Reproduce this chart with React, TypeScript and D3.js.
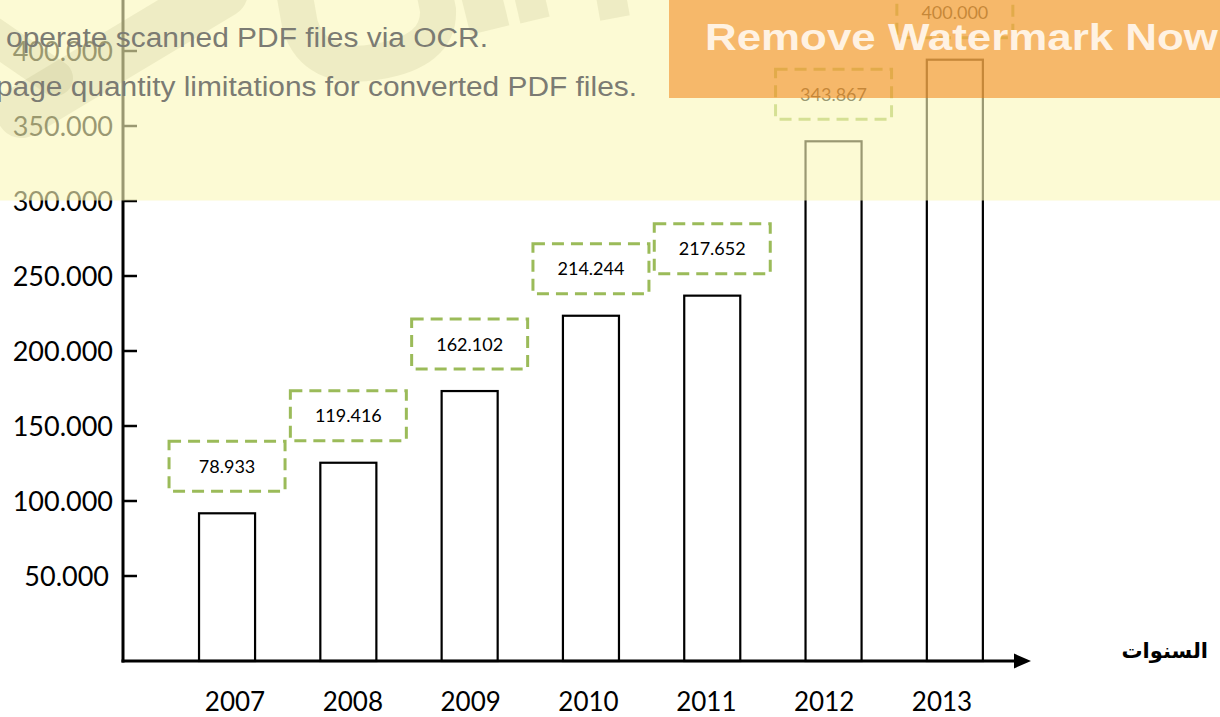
import React from "react";
import * as d3 from "d3";

const years = ["2007", "2008", "2009", "2010", "2011", "2012", "2013"];
const barValues = [91800, 125500, 173300, 223500, 236900, 339800, 394200];
const boxLabels = ["78.933", "119.416", "162.102", "214.244", "217.652", "343.867", "400.000"];
const yTicks = [50000, 100000, 150000, 200000, 250000, 300000, 350000, 400000];
const axisTitle = "السنوات";
const wmLine1 = "operate scanned PDF files via OCR.";
const wmLine2 = "page quantity limitations for converted PDF files.";
const wmButton = "Remove Watermark Now";

const W = 1220;
const H = 717;
const AXIS_X = 123;
const AXIS_Y = 661;

export default function App() {
  const x = d3
    .scaleBand<string>()
    .domain(years)
    .range([166.4, 1015.5])
    .paddingInner(0.538)
    .paddingOuter(0.269);
  const xLab = d3.scalePoint<string>().domain(years).range([235, 942]);
  const y = d3.scaleLinear().domain([0, 400000]).range([651, 51]);
  const fmt = (v: number) => d3.format(".3f")(v / 1000);
  const green = "#9BBB59";

  return (
    <svg
      width={W}
      height={H}
      style={{ position: "absolute", left: 0, top: 0, background: "#fff" }}
    >
      <rect x={0} y={0} width={W} height={H} fill="#fff" />
      {/* y axis */}
      <line x1={AXIS_X} y1={-5} x2={AXIS_X} y2={AXIS_Y + 1.5} stroke="#000" strokeWidth={3} />
      {yTicks.map((t) => (
        <g key={t}>
          <line x1={AXIS_X} x2={AXIS_X + 14} y1={y(t)} y2={y(t)} stroke="#000" strokeWidth={2.5} />
          <text
            x={t === 50000 ? 109 : 113}
            y={y(t)}
            dy="0.36em"
            textAnchor="end"
            fontFamily="Lato, 'Noto Sans', sans-serif"
            fontSize={27}
            fill="#000"
          >
            {fmt(t)}
          </text>
        </g>
      ))}
      {/* bars */}
      {years.map((yr, i) => (
        <rect
          key={yr}
          x={x(yr)}
          y={y(barValues[i])}
          width={x.bandwidth()}
          height={AXIS_Y - y(barValues[i])}
          fill="#fff"
          stroke="#000"
          strokeWidth={2.2}
        />
      ))}
      {/* x axis */}
      <line x1={AXIS_X - 1.5} y1={AXIS_Y} x2={1016} y2={AXIS_Y} stroke="#000" strokeWidth={3} />
      <path d={`M1014,${AXIS_Y - 7.5} L1031,${AXIS_Y} L1014,${AXIS_Y + 7.5} Z`} fill="#000" />
      {/* dashed label boxes */}
      {years.map((yr, i) => {
        const cx = (x(yr) as number) + x.bandwidth() / 2;
        const bottom = y(barValues[i]) - 22;
        return (
          <g key={"b" + yr}>
            <rect
              x={cx - 58}
              y={bottom - 50}
              width={116}
              height={50}
              fill="none"
              stroke={green}
              strokeWidth={3}
              strokeDasharray="12,7"
            />
            <text
              x={cx}
              y={bottom - 25}
              dy="0.36em"
              textAnchor="middle"
              fontFamily="Lato, 'Noto Sans', sans-serif"
              fontSize={18}
              fill="#000"
            >
              {boxLabels[i]}
            </text>
          </g>
        );
      })}
      {/* year labels */}
      {years.map((yr) => (
        <text
          key={"l" + yr}
          x={xLab(yr)}
          y={711}
          textAnchor="middle"
          fontFamily="Lato, 'Noto Sans', sans-serif"
          fontSize={26}
          fill="#000"
        >
          {yr}
        </text>
      ))}
      <text
        x={1208}
        y={658}
        textAnchor="end"
        fontFamily="'DejaVu Sans', sans-serif"
        fontWeight="bold"
        fontSize={21}
        fill="#000"
      >
        {axisTitle}
      </text>

      {/* watermark overlay */}
      <rect x={0} y={0} width={W} height={200.5} fill="rgb(250,247,185)" fillOpacity={0.616} />
      <g fill="none" stroke="#9c9a60" strokeOpacity={0.14} strokeLinecap="round">
        <line x1={222} y1={-8} x2={22} y2={112} strokeWidth={52} />
        <line x1={-15} y1={30} x2={55} y2={78} strokeWidth={36} />
        <path d="M292,-20 L300,25 Q315,72 375,62 Q440,52 438,10 L432,-20" strokeWidth={36} strokeLinecap="butt" />
        <line x1={490} y1={30} x2={480} y2={-10} strokeWidth={40} strokeLinecap="butt" />
        <line x1={535} y1={20} x2={528} y2={-10} strokeWidth={30} strokeLinecap="butt" />
        <line x1={615} y1={18} x2={610} y2={-10} strokeWidth={30} strokeLinecap="butt" />
      </g>
      <rect x={669} y={0} width={W - 669} height={98} fill="rgb(240,117,0)" fillOpacity={0.5} />
      <text
        x={6}
        y={47}
        fontFamily="'Liberation Sans', Arial, sans-serif"
        fontSize={27}
        fill="#7b7b73"
        textLength={482}
        lengthAdjust="spacingAndGlyphs"
      >
        {wmLine1}
      </text>
      <text
        x={-4}
        y={96}
        fontFamily="'Liberation Sans', Arial, sans-serif"
        fontSize={27}
        fill="#7b7b73"
        textLength={641}
        lengthAdjust="spacingAndGlyphs"
      >
        {wmLine2}
      </text>
      <text
        x={705}
        y={50}
        fontFamily="'Liberation Sans', Arial, sans-serif"
        fontWeight="bold"
        fontSize={36}
        fill="#fff2e2"
        textLength={513}
        lengthAdjust="spacingAndGlyphs"
      >
        {wmButton}
      </text>
    </svg>
  );
}
